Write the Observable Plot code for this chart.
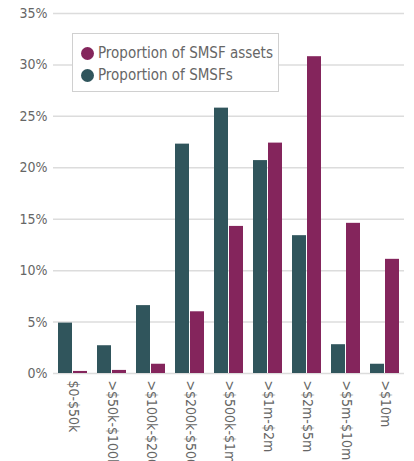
<!DOCTYPE html>
<html>
<head>
<meta charset="utf-8">
<script src="https://cdn.jsdelivr.net/npm/d3@7"></script>
<script src="https://cdn.jsdelivr.net/npm/@observablehq/plot@0.6"></script>
<style>
  html, body { margin: 0; padding: 0; background: #fff; }
  #wrap { position: relative; width: 414px; height: 461px; overflow: hidden; font-family: "Liberation Sans Narrow", "DejaVu Sans Condensed", "Liberation Sans", sans-serif; }
  #legend { position: absolute; left: 72px; top: 33px; width: 205px; height: 57px; border: 1px solid #d0d0d0; background: #fff; color: #666; font-size: 15px; box-sizing: content-box; }
  .item { position: absolute; left: 8px; display: flex; align-items: center; white-space: nowrap; }
  .dot { width: 13px; height: 13px; border-radius: 50%; margin-right: 4px; }
</style>
</head>
<body>
<div id="wrap"></div>
<script>
const categories = ["$0-$50k", ">$50k-$100k", ">$100k-$200k", ">$200k-$500k", ">$500k-$1m", ">$1m-$2m", ">$2m-$5m", ">$5m-$10m", ">$10m"];
const seriesNames = ["Proportion of SMSFs", "Proportion of SMSF assets"];
const smsfs = [4.9, 2.7, 6.6, 22.3, 25.8, 20.7, 13.4, 2.8, 0.9];
const assets = [0.2, 0.3, 0.9, 6.0, 14.3, 22.4, 30.8, 14.6, 11.1];
const colors = ["#30555c", "#84255c"];
const yTicks = [0, 5, 10, 15, 20, 25, 30, 35];
const legendOrder = ["Proportion of SMSF assets", "Proportion of SMSFs"];

const data = [];
categories.forEach((c, i) => {
  data.push({cat: c, series: seriesNames[0], value: smsfs[i]});
  data.push({cat: c, series: seriesNames[1], value: assets[i]});
});

const chart = Plot.plot({
  width: 414,
  height: 461,
  marginTop: 13,
  marginLeft: 51,
  marginRight: 9,
  marginBottom: 88,
  style: {fontFamily: '"Liberation Sans Narrow", "DejaVu Sans Condensed", "Liberation Sans", sans-serif', fontSize: "14px", color: "#666", overflow: "hidden"},
  fx: {domain: categories, padding: 0, label: null},
  x: {domain: seriesNames, paddingInner: 0.06, paddingOuter: 0.26, axis: null},
  y: {domain: [0, 35], label: null},
  color: {domain: seriesNames, range: colors},
  marks: [
    Plot.gridY(yTicks, {stroke: "#dcdcdc", strokeOpacity: 1, strokeWidth: 1.5}),
    Plot.axisY(yTicks, {tickSize: 0, tickPadding: 6, tickFormat: d => d + "%", label: null, fontSize: 14}),
    Plot.axisFx({anchor: "bottom", tickRotate: 90, tickSize: 0, tickPadding: 7, label: null, fontSize: 14}),
    Plot.barY(data, {fx: "cat", x: "series", y: "value", fill: "series"})
  ]
});

const wrap = document.getElementById("wrap");
wrap.appendChild(chart);

const legend = document.createElement("div");
legend.id = "legend";
legendOrder.forEach((name, i) => {
  const item = document.createElement("div");
  item.className = "item";
  item.style.top = (i === 0 ? 10 : 32) + "px";
  const dot = document.createElement("span");
  dot.className = "dot";
  dot.style.background = colors[seriesNames.indexOf(name)];
  const label = document.createElement("span");
  label.textContent = name;
  item.appendChild(dot);
  item.appendChild(label);
  legend.appendChild(item);
});
wrap.appendChild(legend);
</script>
</body>
</html>
